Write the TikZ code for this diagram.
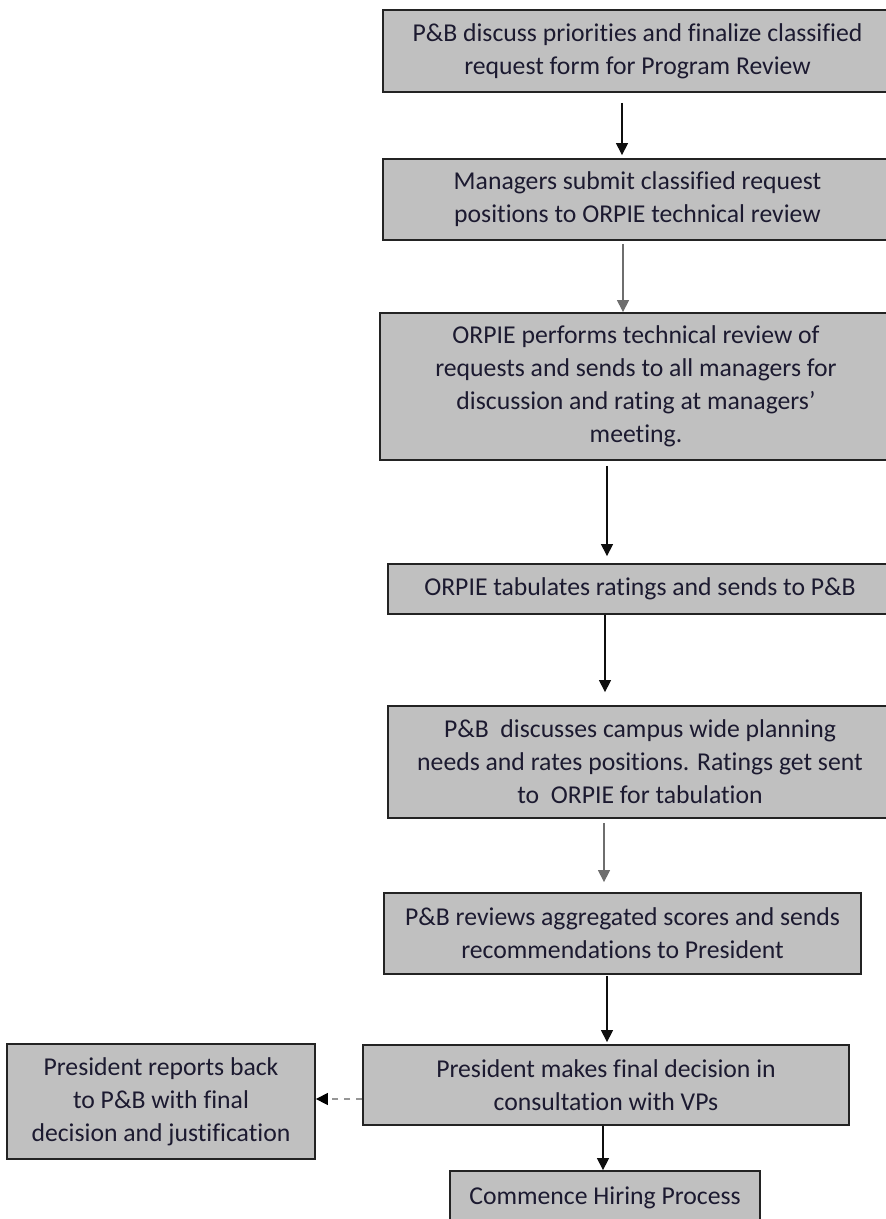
\documentclass[tikz,border=0pt]{standalone}
\usepackage{fontspec}
\setmainfont{Carlito}[Ligatures=NoCommon]
\usetikzlibrary{arrows.meta}
\definecolor{boxfill}{RGB}{192,192,192}
\definecolor{boxedge}{RGB}{ 35, 35, 35}
\definecolor{textcol}{RGB}{ 28, 26, 48}
\definecolor{linkcol}{RGB}{ 15, 15, 15}
\definecolor{greycol}{RGB}{110,110,110}
\definecolor{dashcol}{RGB}{150,150,150}

\begin{document}
\begin{tikzpicture}[
  % one unit = one pixel of the 885 x 1219 layout, y pointing down
  x={(0.5pt,0)},
  y={(0,-0.5pt)},
  >={Triangle[length=6pt,width=6pt]},
  line join=miter,
  stepbox/.style={draw=boxedge,fill=boxfill,line width=0.9pt,
    text=textcol,align=center,inner sep=0pt,
    font=\fontsize{12.85pt}{16.5pt}\selectfont},
  flow/.style={linkcol,line width=0.6pt,->},
  backflow/.style={dashcol,line width=0.7pt,dashed,dash pattern=on 3pt off 3pt,
    -{Triangle[length=6pt,width=6pt,color=black]}}
]

\useasboundingbox (0,0) rectangle (885,1219);

% ---- main column ---------------------------------------------------------
\node[stepbox,minimum width=254.5pt,minimum height=41pt] (finalize) at (637.5,51)
  {P\&B discuss priorities and finalize classified\\request form for Program Review};
\node[stepbox,minimum width=254.5pt,minimum height=40.5pt] (submit) at (637.5,199.5)
  {Managers submit classified request\\positions to ORPIE technical review};
\node[stepbox,minimum width=256pt,minimum height=73.5pt] (techreview) at (636,386.5)
  {ORPIE performs technical review of\\requests and sends to all managers for\\discussion and rating at managers’\\meeting.};
\node[stepbox,minimum width=252pt,minimum height=25pt] (tabulate) at (640,589)
  {ORPIE tabulates ratings and sends to P\&B};
\node[stepbox,minimum width=252pt,minimum height=56pt] (rate) at (640,762)
  {P\&B\ \ discusses campus wide planning\\needs and rates positions. Ratings get sent\\to\ \ ORPIE for tabulation};
\node[stepbox,minimum width=238.5pt,minimum height=40.5pt] (aggregate) at (622.5,933.5)
  {P\&B reviews aggregated scores and sends\\recommendations to President};
\node[stepbox,minimum width=243pt,minimum height=40pt] (decide) at (606,1085)
  {President makes final decision in\\consultation with VPs};
\node[stepbox,minimum width=155pt,minimum height=27pt] (hire) at (605,1198)
  {Commence Hiring Process};

% ---- side branch ---------------------------------------------------------
\node[stepbox,minimum width=154pt,minimum height=57.5pt] (report) at (161,1101.5)
  {President reports back\\to P\&B with final\\decision and justification};

% ---- arrow columns -------------------------------------------------------
\coordinate (colA) at (622,0);
\coordinate (colB) at (623,0);
\coordinate (colC) at (607,0);
\coordinate (colD) at (605,0);
\coordinate (colE) at (604,0);
\coordinate (colF) at (603,0);
\coordinate (backrow) at (0,1099);

% ---- connectors ----------------------------------------------------------
\draw[flow,shorten <=5pt,shorten >=1.5pt] (finalize.south -| colA) -- (submit.north -| colA);
\draw[flow,greycol,shorten <=1.5pt] (submit.south -| colB) -- (techreview.north -| colB);
\draw[flow,shorten <=2.5pt,shorten >=3.5pt] (techreview.south -| colC) -- (tabulate.north -| colC);
\draw[flow,shorten >=6.5pt] (tabulate.south -| colD) -- (rate.north -| colD);
\draw[flow,greycol,shorten <=2pt,shorten >=5pt] (rate.south -| colE) -- (aggregate.north -| colE);
\draw[flow,shorten <=0.5pt,shorten >=1pt] (aggregate.south -| colC) -- (decide.north -| colC);
\draw[flow] (decide.south -| colF) -- (hire.north -| colF);
\draw[backflow] (decide.west |- backrow) -- (report.east |- backrow);

\end{tikzpicture}
\end{document}
